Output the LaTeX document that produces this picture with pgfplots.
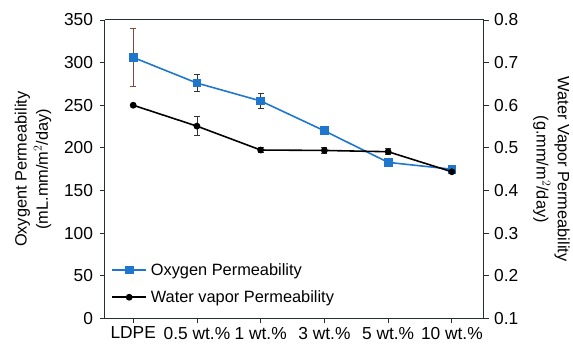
\documentclass[border=0pt]{standalone}
\usepackage{pgfplots}
\pgfplotsset{compat=1.18}
\usepackage{fontspec}
\setmainfont{Liberation Sans}
\definecolor{oxblue}{RGB}{30,118,205}
\definecolor{errbrown}{RGB}{125,75,60}
\definecolor{axgray}{RGB}{40,45,50}
\begin{document}
\begin{tikzpicture}
\pgfplotsset{every axis/.append style={
  scale only axis, width=381bp, height=300bp,
  xmin=-0.45, xmax=5.5,
  tick align=outside,
  /pgf/number format/assume math mode=true,
  tick label style={font=\fontsize{17.5}{20}\selectfont},
  label style={font=\fontsize{16.5}{21.5}\selectfont, align=center},
  axis line style={line width=0.9pt, axgray},
  major tick style={line width=0.8pt, axgray},
  major tick length=5bp,
}}
\begin{axis}[
  axis y line*=left,
  ymin=0, ymax=350, ytick={0,50,...,350},
  xtick={0,...,5}, xtick pos=bottom, ytick pos=left,
  xticklabels={LDPE,0.5 wt.\%,1 wt.\%,3 wt.\%,5 wt.\%,10 wt.\%},
  yticklabel style={xshift=-3bp},
  ylabel={Oxygent Permeability\\(mL.mm/m$^2$/day)},
  ylabel style={yshift=6bp},
  legend style={at={(0.01,0.035)}, anchor=south west, draw=none, fill=none,
    font=\fontsize{16.5}{19}\selectfont, row sep=10bp,
    nodes={inner xsep=4bp}},
  legend cell align=left,
  legend image code/.code={\draw[mark repeat=2,mark phase=2] plot coordinates {(0bp,0bp) (17bp,0bp) (34bp,0bp)};},
]
\addplot[forget plot, draw=none, mark=none,
  error bars/.cd, y dir=both, y explicit,
  error bar style={line width=0.8pt, errbrown},
  error mark options={rotate=90, mark size=3pt, line width=0.8pt, errbrown}]
  coordinates {(0,306) +- (0,34)};
\addplot[forget plot, draw=none, mark=none,
  error bars/.cd, y dir=both, y explicit,
  error bar style={line width=0.8pt, black!80},
  error mark options={rotate=90, mark size=3pt, line width=0.8pt, black!80}]
  coordinates {(1,276) +- (0,10) (2,255) +- (0,9)};
\addplot[oxblue, line width=1.6pt, mark=square*, mark size=3.6pt,
  mark options={solid, fill=oxblue}]
  coordinates {(0,306) (1,276) (2,255) (3,220) (4,183) (5,175)};
\addlegendentry{Oxygen Permeability}
\addlegendimage{black, line width=1.6pt, mark=*, mark size=2.6pt}
\addlegendentry{Water vapor Permeability}
\end{axis}
\begin{axis}[
  axis y line*=right, axis x line=none,
  ymin=0.1, ymax=0.8, ytick={0.1,0.2,...,0.8},
  yticklabel style={xshift=2bp, /pgf/number format/.cd, fixed, fixed zerofill, precision=1},
  ylabel={Water Vapor Permeability\\(g.mm/m$^2$/day)},
  ylabel style={rotate=180, yshift=8bp},
]
\addplot[draw=none, mark=none,
  error bars/.cd, y dir=both, y explicit,
  error bar style={line width=0.8pt, black!80},
  error mark options={rotate=90, mark size=3pt, line width=0.8pt, black!80}]
  coordinates {(1,0.551) +- (0,0.022) (2,0.495) +- (0,0.006) (3,0.494) +- (0,0.006) (4,0.491) +- (0,0.007)};
\addplot[black, line width=1.6pt, mark=*, mark size=2.6pt]
  coordinates {(0,0.600) (1,0.551) (2,0.495) (3,0.494) (4,0.491) (5,0.444)};
\end{axis}
\path ([shift={(-105bp,-29bp)}]current axis.south west) rectangle ([shift={(87bp,20bp)}]current axis.north east);
\end{tikzpicture}
\end{document}
